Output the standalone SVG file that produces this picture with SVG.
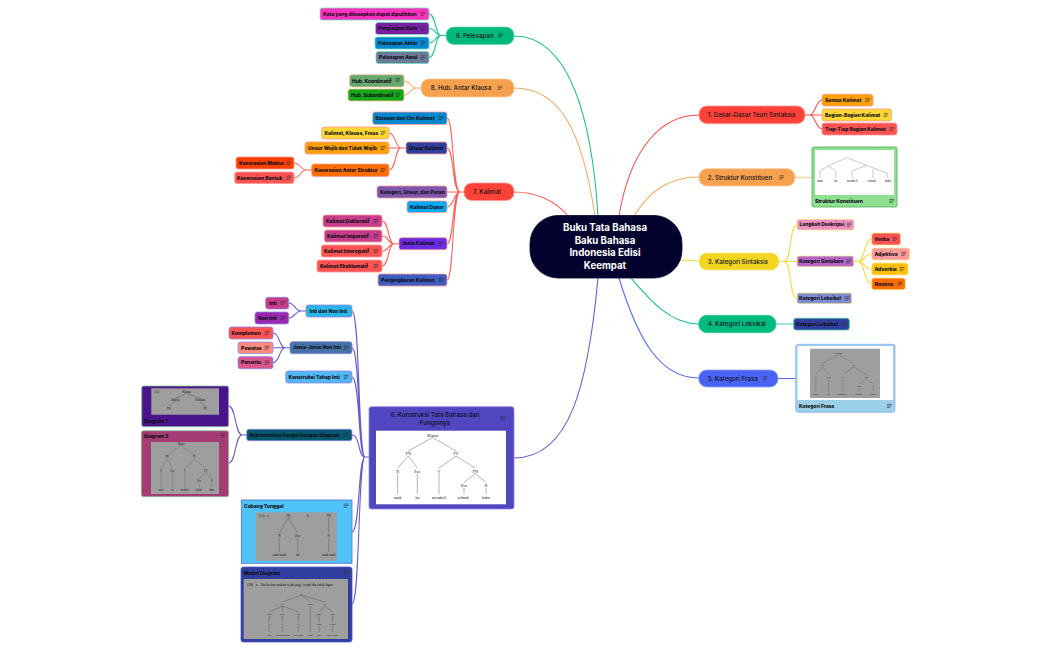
<svg xmlns="http://www.w3.org/2000/svg" width="1050" height="650" viewBox="0 0 1050 650">
<style>
text{font-family:"Inter","Liberation Sans",sans-serif;fill:#101018}
.t{font-size:4.9px;font-weight:800}
.m{font-size:6.2px;font-weight:500}
.r{font-size:9.7px;font-weight:700;fill:#fff;text-anchor:middle}
.s{font-family:"Liberation Serif",serif;font-size:4px;text-anchor:middle;fill:#111}
.c path{fill:none;stroke-width:1.05;stroke-linecap:round}
.tr line,.tr path{stroke:#555;stroke-width:.45;fill:none}
.n{stroke:#333;stroke-width:.6;fill:none}
.g{fill:#9e9e9e}
.c9{stroke:#1cc48c}.c8{stroke:#f8a95f}.c7{stroke:#ff5f56}.c6{stroke:#625ad2}.c1{stroke:#ff4a42}.c2{stroke:#f8a95f}.c3{stroke:#f5d93a}.c4{stroke:#0cc087}.c5{stroke:#5069f5}
.b9{stroke:#6fdcb8}.b8{stroke:#fbc795}.b7{stroke:#ff9a94}.b6{stroke:#8f88e2}.b1{stroke:#ff9a94}.b3{stroke:#fae98c}.b4{stroke:#35cf9c}.b5{stroke:#8aa8ff}
rect{stroke-width:.8}
</style>
<defs>
<g id="i"><path class="n" d="M-2.4-1.6H2.4M-2.4 0H2.4M-2.4 1.6H.8"/></g>
<g id="tree" class="tr">
<path d="M432.7 437.5L408.3 451M432.7 437.5L456 451M408.3 456L397.7 468M408.3 456L417.3 468M456 456L439 468M456 456L475.3 468M397.7 473.5V494M417.3 473.5V494M439 473.5V494M475.3 473.5L464 482.5M475.3 473.5L486 482.5M464 488V494M486 488V494"/>
<text class="s" x="432.7" y="436.5">Klausa</text><text class="s" x="408.3" y="455">FN</text><text class="s" x="456" y="455">FV</text><text class="s" x="397.7" y="472.5">N</text><text class="s" x="417.3" y="472.5">Pen</text><text class="s" x="439" y="472.5">V</text><text class="s" x="475.3" y="472.5">FN</text><text class="s" x="464" y="487">Pen</text><text class="s" x="486" y="487">N</text><text class="s" x="397.7" y="499">anak</text><text class="s" x="417.3" y="499">itu</text><text class="s" x="439" y="499">membeli</text><text class="s" x="463.3" y="499">sebuah</text><text class="s" x="486" y="499">buku</text>
</g>
</defs>
<rect width="1050" height="650" fill="#fff" stroke="none"/>
<g id="connectors" class="c">
<path class="c9" d="M598 216C592 120 570 36 514 36"/>
<path class="c8" d="M595 216C582 130 560 88 514 88"/>
<path class="c7" d="M568 216C555 200 535 192 514 192"/>
<path class="c6" d="M598 278C588 385 570 458 514 458"/>
<path class="c1" d="M619 216C630 150 660 115 699 115"/>
<path class="c2" d="M634 216C650 190 670 177 699 177"/>
<path class="c3" d="M680 260C688 260 692 261 699 261"/>
<path class="c4" d="M631 278C650 300 670 324 699 324"/>
<path class="c5" d="M619 278C638 340 660 378 699 378"/>
<path class="c9" d="M446 35.5H441C435 35.5 436 14 429 14M441 35.5C435 35.5 436 28.5 429 28.5M441 35.5C435 35.5 436 43 429 43M441 35.5C435 35.5 436 57.5 429 57.5"/>
<path class="c8" d="M421 88H416C411 88 410 81 404 81M416 88C411 88 410 95 404 95"/>
<path class="c7" d="M464 192H460C452 192 454 118 447 118M460 192C452 192 454 148 447 148M460 192H447M460 192C454 192 454 207 447 207M460 192C452 192 454 243.7 447 243.7M460 192C452 192 454 280 447 280"/>
<path class="c7" d="M406 148H401C395 148 396 133 389 133M401 148H389M401 148C395 148 396 170 389 170"/>
<path class="c7" d="M311.7 170H306C301 170 300 163 294 163M306 170C301 170 300 178 294 178"/>
<path class="c7" d="M399 243.7H394C388 243.7 389 221 382 221M394 243.7C388 243.7 389 236 382 236M394 243.7C388 243.7 389 251 382 251M394 243.7C388 243.7 389 266 382 266"/>
<path class="c6" d="M369 457H365C358 457 360 311 352 311M365 457C358 457 360 347.7 352 347.7M365 457C358 457 360 377 352 377M365 457C358 457 360 435 352 435M365 457C358 457 360 532 352 532M365 457C358 457 360 604 352 604"/>
<path class="c6" d="M306 311H301C295 311 295 303 288.7 303M301 311C295 311 295 318 288.7 318"/>
<path class="c6" d="M290 347.7H285C279 347.7 280 333 273 333M285 347.7H273M285 347.7C279 347.7 280 362.7 273 362.7"/>
<path class="c6" d="M246.7 435H242C235 435 236 406 228.7 406M242 435C235 435 236 463 228.7 463"/>
<path class="c1" d="M805 115H810C815 115 816 100 822 100M810 115H822M810 115C815 115 816 129 822 129"/>
<path class="c3" d="M779 261.5H784C792 261.5 789 224.7 797 224.7M784 261.5H797M784 261.5C792 261.5 789 298.5 797 298.5"/>
<path class="c3" d="M853.7 261.5H858C865 261.5 864 239 871.7 239M858 261.5C865 261.5 864 254 871.7 254M858 261.5C865 261.5 864 269 871.7 269M858 261.5C865 261.5 864 284 871.7 284"/>
<path class="c2" d="M795 177.5H812" style="stroke:#fbd0a6;stroke-width:1.6"/>
<path class="c4" d="M776 324H793.7" style="stroke:#7fe0bd;stroke-width:1.4"/>
<path class="c5" d="M778 378.5H795.7"/>
</g>
<g id="root"><rect x="530" y="215.5" width="152" height="62.5" rx="28" fill="#03022e" stroke="#03022e"/><text class="r"><tspan x="605" y="231">Buku Tata Bahasa</tspan><tspan x="605" y="243.5">Baku Bahasa</tspan><tspan x="605" y="256">Indonesia Edisi</tspan><tspan x="605" y="268.5">Keempat</tspan></text></g>

<g id="n9"><rect class="b9" x="446" y="27" width="68" height="17.5" rx="8" fill="#00b97a"/><text class="m" x="455.7" y="37.8">9. Pelesapan</text><use href="#i" x="500.7" y="35.3"/></g>
<g id="n9a"><rect class="b9" x="320" y="8" width="109" height="12" rx="2.5" fill="#ff2fc0"/><text class="t" x="323" y="15.7">Kata yang dilesapkan dapat dipulihkan</text><use href="#i" x="423" y="14"/></g>
<g id="n9b"><rect class="b9" x="375.5" y="22.5" width="53.5" height="12" rx="2.5" fill="#7b1fa2"/><text class="t" x="378" y="30.2">Penyisipan Kata</text><use href="#i" x="423" y="28.5"/></g>
<g id="n9c"><rect class="b9" x="375" y="37" width="54" height="12" rx="2.5" fill="#0288d1"/><text class="t" x="378" y="44.7">Pelesapan Akhir</text><use href="#i" x="423" y="43"/></g>
<g id="n9d"><rect class="b9" x="376" y="51.5" width="53" height="12" rx="2.5" fill="#6b7a99"/><text class="t" x="379" y="59.2">Pelesapan Awal</text><use href="#i" x="423" y="57.5"/></g>

<g id="n8"><rect class="b8" x="421" y="79" width="93" height="18" rx="8" fill="#f7a14e"/><text class="m" x="430.7" y="90">8. Hub. Antar Klausa</text><use href="#i" x="500" y="87.7"/></g>
<g id="n8a"><rect class="b8" x="349.5" y="74.7" width="54.5" height="12.3" rx="2.5" fill="#66a86e"/><text class="t" x="352" y="82.5">Hub. Koordinatif</text><use href="#i" x="398" y="80"/></g>
<g id="n8b"><rect class="b8" x="348" y="89" width="56" height="12" rx="2.5" fill="#17a81a"/><text class="t" x="351" y="96.7">Hub. Subordinatif</text><use href="#i" x="398" y="95"/></g>

<g id="n7"><rect class="b7" x="464" y="183" width="50" height="17.6" rx="8" fill="#ff4238"/><text class="m" x="473" y="194">7. Kalimat</text></g>
<g id="n7a"><rect class="b7" x="372.7" y="112" width="74.3" height="12.5" rx="2.5" fill="#0288d1"/><text class="t" x="375.5" y="119.9">Batasan dan Ciri Kalimat</text><use href="#i" x="441" y="118"/></g>
<g id="n7b"><rect class="b7" x="406" y="142" width="41" height="12" rx="2.5" fill="#303f9f"/><text class="t" x="409" y="149.7">Unsur Kalimat</text></g>
<g id="n7b1"><rect class="b7" x="321.7" y="127" width="67.3" height="12" rx="2.5" fill="#fdd835"/><text class="t" x="324.5" y="134.7">Kalimat, Klausa, Frasa</text><use href="#i" x="383" y="133"/></g>
<g id="n7b2"><rect class="b7" x="305" y="142" width="84" height="12" rx="2.5" fill="#ffa000"/><text class="t" x="308" y="149.7">Unsur Wajib dan Tidak Wajib</text><use href="#i" x="383" y="148"/></g>
<g id="n7b3"><rect class="b7" x="311.7" y="164" width="77.3" height="12.5" rx="2.5" fill="#ff6d00"/><text class="t" x="314.5" y="171.9">Keserasian Antar Struktur</text><use href="#i" x="383" y="170"/></g>
<g id="n7b3a"><rect class="b7" x="236" y="157" width="58" height="12" rx="2.5" fill="#ff3d00"/><text class="t" x="239" y="164.7">Keserasian Makna</text><use href="#i" x="288.7" y="163"/></g>
<g id="n7b3b"><rect class="b7" x="234.7" y="172" width="59.3" height="11.5" rx="2.5" fill="#ff5252"/><text class="t" x="237" y="179.5">Keserasian Bentuk</text><use href="#i" x="288.7" y="177.7"/></g>
<g id="n7c"><rect class="b7" x="377" y="186" width="70" height="12" rx="2.5" fill="#7e57ad"/><text class="t" x="380" y="193.7">Kategori, Unsur, dan Peran</text></g>
<g id="n7d"><rect class="b7" x="407" y="201" width="40" height="11.5" rx="2.5" fill="#03a9f4"/><text class="t" x="410" y="208.5">Kalimat Dasar</text></g>
<g id="n7e"><rect class="b7" x="399" y="237.7" width="48" height="12" rx="2.5" fill="#6a2be2"/><text class="t" x="401.7" y="245.4">Jenis Kalimat</text><use href="#i" x="441" y="243.7"/></g>
<g id="n7e1"><rect class="b7" x="323" y="215" width="59" height="12" rx="2.5" fill="#c83c8c"/><text class="t" x="326" y="222.7">Kalimat Deklaratif</text><use href="#i" x="376" y="221"/></g>
<g id="n7e2"><rect class="b7" x="324.3" y="230" width="57.7" height="12" rx="2.5" fill="#c83c8c"/><text class="t" x="327" y="237.7">Kalimat Imperatif</text><use href="#i" x="376" y="236"/></g>
<g id="n7e3"><rect class="b7" x="321.3" y="245" width="60.7" height="12" rx="2.5" fill="#ff5252"/><text class="t" x="324" y="252.7">Kalimat Interogatif</text><use href="#i" x="376" y="251"/></g>
<g id="n7e4"><rect class="b7" x="317" y="260" width="65" height="12" rx="2.5" fill="#ff5252"/><text class="t" x="320" y="267.7">Kalimat Eksklamatif</text><use href="#i" x="376" y="266"/></g>
<g id="n7f"><rect class="b7" x="378" y="274" width="69" height="12" rx="2.5" fill="#3f5cc0"/><text class="t" x="381" y="281.7">Pengingkaran Kalimat</text><use href="#i" x="441" y="280"/></g>

<g id="n6"><rect class="b6" x="369" y="406.7" width="145" height="102.3" rx="2.5" fill="#4f46c0"/><text class="m" text-anchor="middle"><tspan x="435" y="417">6. Konstruksi Tata Bahasa dan</tspan><tspan x="435" y="425">Fungsinya</tspan></text><use href="#i" x="502.7" y="418.5"/><rect x="376" y="430.7" width="130" height="73.6" fill="#fff" stroke="none"/><use href="#tree"/></g>
<g id="n6a"><rect class="b6" x="306" y="305" width="46" height="12" rx="2.5" fill="#29b6e6"/><text class="t" x="309.5" y="312.7">Inti dan Non Inti</text></g>
<g id="n6a1"><rect class="b6" x="265.7" y="297.3" width="23" height="11.7" rx="2.5" fill="#c83c8c"/><text class="t" x="269" y="304.9">Inti</text><use href="#i" x="283" y="303"/></g>
<g id="n6a2"><rect class="b6" x="255" y="312" width="33.7" height="12" rx="2.5" fill="#9c27b0"/><text class="t" x="258" y="319.7">Non Inti</text><use href="#i" x="283" y="318"/></g>
<g id="n6b"><rect class="b6" x="290" y="341.7" width="62" height="12" rx="2.5" fill="#4573a8"/><text class="t" x="293" y="349.4">Jenis-Jenis Non Inti</text><use href="#i" x="346" y="347.7"/></g>
<g id="n6b1"><rect class="b6" x="229" y="327" width="44" height="12" rx="2.5" fill="#ff5252"/><text class="t" x="231.5" y="334.7">Komplemen</text><use href="#i" x="267" y="333"/></g>
<g id="n6b2"><rect class="b6" x="238" y="342" width="35" height="11.6" rx="2.5" fill="#ff8a80"/><text class="t" x="241" y="349.6">Pewatas</text><use href="#i" x="267" y="347.7"/></g>
<g id="n6b3"><rect class="b6" x="238" y="356.7" width="35" height="12" rx="2.5" fill="#d9558f"/><text class="t" x="241" y="364.4">Penentu</text><use href="#i" x="267" y="362.7"/></g>
<g id="n6c"><rect class="b6" x="285.7" y="371" width="66.3" height="12" rx="2.5" fill="#4fb8f5"/><text class="t" x="288.5" y="378.7">Konstruksi Tahap Inti</text><use href="#i" x="346" y="377"/></g>
<g id="n6d"><rect class="b6" x="246.7" y="429.3" width="105.3" height="11.4" rx="2.5" fill="#00596e"/><text class="t" x="249.5" y="436.8">Representasi Fungsi Dengan Diagram</text><use href="#i" x="346" y="435"/></g>

<g id="n6d1"><rect x="141.7" y="386" width="87" height="40.7" rx="2" fill="#4a148c" stroke="#8fbf9f"/><rect class="g" x="151.3" y="388.3" width="67.7" height="26.4" stroke="none"/>
<g class="tr"><path d="M186.7 393L175.3 398.5M186.7 393L200 398.5M175.3 401L168.7 406.5M200 401L205.3 406.5"/></g>
<text class="s" style="font-size:3px" x="156.7" y="392.5">(15)</text><text class="s" style="font-size:3px" x="186.7" y="392.5">Klausa</text><text class="s" style="font-size:3px" x="175.3" y="400.5">Subjek</text><text class="s" style="font-size:3px" x="200" y="400.5">Predikat</text><text class="s" style="font-size:3px" x="168.7" y="409.5">FN</text><text class="s" style="font-size:3px" x="205.3" y="409.5">FV</text>
<text class="t" x="144" y="423">Diagram 1</text></g>

<g id="n6d2"><rect x="141.3" y="430.7" width="87.4" height="66" rx="2" fill="#a53d74" stroke="#8fbf9f"/><text class="t" x="144" y="438">Diagram 2</text><use href="#i" x="223" y="435.5"/><rect class="g" x="151" y="442" width="68" height="52" stroke="none"/><use href="#tree" transform="translate(-67.7 117.2) scale(.575 .75)"/></g>

<g id="n6e"><rect x="241.3" y="500" width="110.7" height="63.3" fill="#4fc3f7" stroke="#5b6cd0"/><text class="t" x="244" y="507.5">Cabang Tunggal</text><use href="#i" x="346" y="505.7"/><rect class="g" x="255.7" y="512.3" width="81.3" height="48.4" stroke="none"/>
<g class="tr"><path d="M288.3 517.5L279.3 533M288.3 517.5L297.7 533M328.7 517.5V533M279.3 537.5V552M297.7 537.5V552M328.7 537.5V552"/></g>
<text class="s" style="font-size:3.2px" x="261.7" y="517">(13)</text><text class="s" style="font-size:3.2px" x="268" y="517">a.</text><text class="s" style="font-size:3.2px" x="288.3" y="517">FN</text><text class="s" style="font-size:3.2px" x="308.3" y="517">b.</text><text class="s" style="font-size:3.2px" x="328.7" y="517">FN</text><text class="s" style="font-size:3.2px" x="279.3" y="536.5">N</text><text class="s" style="font-size:3.2px" x="297.7" y="536.5">Pen</text><text class="s" style="font-size:3.2px" x="328.7" y="536.5">N</text><text class="s" style="font-size:3.2px" x="279.3" y="556">anak-anak</text><text class="s" style="font-size:3.2px" x="297.7" y="556">itu</text><text class="s" style="font-size:3.2px" x="328.7" y="556">anak-anak</text></g>

<g id="n6f"><rect x="241" y="567" width="111" height="75" rx="2.5" fill="#303f9f" stroke="#4a55c8"/><text class="t" x="243.7" y="574.5">Model Diagram</text><use href="#i" x="346" y="572"/><rect class="g" x="243.7" y="579" width="104.3" height="60" stroke="none"/>
<text class="s" style="font-size:3.6px;text-anchor:start" x="247" y="586" xml:space="preserve">(30)   a.   Ibu belum makan sejak pagi, tetapi dia tidak lapar.</text>
<g class="tr"><path d="M301 595L282.3 602M301 595L310.3 602M301 595L325 602M282.3 606L269.3 612M282.3 606V612M282.3 606L298.3 612M325 606L319 612M325 606L332.3 612M269.3 615.5V622M282.3 615.5V622M298.3 615.5V622M319 615.5V622M332.3 615.5V622M269.3 626V632M282.3 626V632M298.3 626V632M319 626V632M332.3 626V632M310.3 606V632"/></g>
<g><text class="s" style="font-size:2.5px" x="301" y="594.5">S</text><text class="s" style="font-size:2.5px" x="282.3" y="604.7">K</text><text class="s" style="font-size:2.5px" x="310.3" y="604.7">Konj</text><text class="s" style="font-size:2.5px" x="325" y="604.7">KI</text><text class="s" style="font-size:2.5px" x="269.3" y="614.7">Subj</text><text class="s" style="font-size:2.5px" x="282.3" y="614.7">Pred</text><text class="s" style="font-size:2.5px" x="298.3" y="614.7">Ket</text><text class="s" style="font-size:2.5px" x="319" y="614.7">Subj</text><text class="s" style="font-size:2.5px" x="332.3" y="614.7">Pred</text><text class="s" style="font-size:2.5px" x="269.3" y="625">FN</text><text class="s" style="font-size:2.5px" x="282.3" y="625">FV</text><text class="s" style="font-size:2.5px" x="298.3" y="625">FN</text><text class="s" style="font-size:2.5px" x="319" y="625">Pron</text><text class="s" style="font-size:2.5px" x="332.3" y="625">Predg</text><text class="s" style="font-size:2.5px" x="269.3" y="636">Ibu</text><text class="s" style="font-size:2.5px" x="283" y="636">belum makan</text><text class="s" style="font-size:2.5px" x="298.3" y="636">sejak pagi</text><text class="s" style="font-size:2.5px" x="310.3" y="636">tetapi</text><text class="s" style="font-size:2.5px" x="319" y="636">dia</text><text class="s" style="font-size:2.5px" x="332.3" y="636">tidak lapar</text></g></g>

<g id="n1"><rect class="b1" x="699" y="106" width="106" height="17.7" rx="8" fill="#ff4238"/><text class="m" x="707.7" y="117">1. Dasar-Dasar Teori Sintaksis</text></g>
<g id="n1a"><rect class="b1" x="822" y="94.3" width="51" height="11.7" rx="2.5" fill="#ffa000"/><text class="t" x="825" y="101.9">Semua Kalimat</text><use href="#i" x="867.7" y="100"/></g>
<g id="n1b"><rect class="b1" x="822" y="109" width="69.7" height="12" rx="2.5" fill="#fdd835"/><text class="t" x="825" y="116.7">Bagian-Bagian Kalimat</text><use href="#i" x="886" y="115"/></g>
<g id="n1c"><rect class="b1" x="822" y="123" width="75" height="12" rx="2.5" fill="#ff5252"/><text class="t" x="825" y="130.7">Tiap-Tiap Bagian Kalimat</text><use href="#i" x="891.7" y="129"/></g>

<g id="n2"><rect class="b8" x="699" y="168.7" width="96" height="17.3" rx="8" fill="#f7a14e"/><text class="m" x="707.7" y="179.6">2. Struktur Konstituen</text><use href="#i" x="781.7" y="177.3"/></g>
<g id="n2a"><rect x="812" y="147" width="85" height="60" rx="1.5" fill="#8fdf92" stroke="#4cb050"/><rect x="815" y="150" width="79" height="45" fill="#fff" stroke="none"/>
<g class="tr"><path style="stroke:#888" d="M846.7 157.7L828 166M846.7 157.7L886.7 173M828 166L820 171V178M828 166L835.7 171V178M866.7 165.3L852 171V178M873 169V178M886.7 173L888 178"/></g>
<text class="s" style="font-size:3px" x="820" y="181.5">anak</text><text class="s" style="font-size:3px" x="835.7" y="181.5">itu</text><text class="s" style="font-size:3px" x="852.3" y="181.5">membeli</text><text class="s" style="font-size:3px" x="871.7" y="181.5">sebuah</text><text class="s" style="font-size:3px" x="888" y="181.5">buku</text>
<text class="t" x="815" y="202.8">Struktur Konstituen</text><use href="#i" x="891.7" y="201"/></g>

<g id="n3"><rect class="b3" x="699" y="253" width="80" height="17" rx="8" fill="#f2d51f"/><text class="m" x="707.7" y="263.7">3. Kategori Sintaksis</text></g>
<g id="n3a"><rect class="b3" x="797" y="219.3" width="57" height="10.7" rx="2" fill="#ef8fc0"/><text class="t" x="799.5" y="226.4">Langkah Deskripsi</text><use href="#i" x="849.3" y="224.7"/></g>
<g id="n3b"><rect class="b3" x="797" y="256" width="56.7" height="10.7" rx="2" fill="#b565c8"/><text class="t" x="799" y="263.1">Kategori Sintaksis</text><use href="#i" x="848.7" y="261.3"/></g>
<g id="n3c"><rect class="b3" x="797" y="293" width="54.7" height="10.7" rx="2" fill="#7e8bd0"/><text class="t" x="799" y="300.1">Kategori Leksikal</text><use href="#i" x="847" y="298.3"/></g>
<g id="n3b1"><rect class="b3" x="871.7" y="233" width="29" height="12" rx="2.5" fill="#ff5252"/><text class="t" x="874.5" y="240.7">Verba</text><use href="#i" x="895" y="239"/></g>
<g id="n3b2"><rect class="b3" x="871.7" y="248" width="38" height="12" rx="2.5" fill="#ff9a9a"/><text class="t" x="874.5" y="255.7">Adjektiva</text><use href="#i" x="903.7" y="254"/></g>
<g id="n3b3"><rect class="b3" x="871.7" y="263" width="36.3" height="12" rx="2.5" fill="#ffc107"/><text class="t" x="874.5" y="270.7">Adverbia</text><use href="#i" x="902" y="269"/></g>
<g id="n3b4"><rect class="b3" x="871.7" y="278" width="33.6" height="11.7" rx="2.5" fill="#ff6d00"/><text class="t" x="874.5" y="285.6">Nomina</text><use href="#i" x="900" y="283.7"/></g>

<g id="n4"><rect class="b4" x="698.7" y="315.3" width="77.3" height="17.4" rx="8" fill="#00bb80"/><text class="m" x="707.7" y="326.2">4. Kategori Leksikal</text></g>
<g id="n4a"><rect class="b4" x="793.7" y="318.3" width="55.6" height="11.7" rx="2.5" fill="#303f9f"/><text class="t" x="796" y="325.9">Kategori Leksikal</text><use href="#i" x="844" y="324"/></g>

<g id="n5"><rect class="b5" x="698.7" y="370" width="79.3" height="17" rx="8" fill="#4a63f5"/><text class="m" x="707.7" y="380.7">5. Kategori Frasa</text><use href="#i" x="765" y="378.3"/></g>
<g id="n5a"><rect x="795.7" y="344.3" width="99.3" height="68" rx="2.5" fill="#9ccfe8" stroke="#8ab0ff"/><rect x="797.5" y="346" width="95.5" height="54" fill="#fff" stroke="none"/><rect class="g" x="810" y="348.7" width="70" height="49.3" stroke="none"/><use href="#tree" transform="translate(556 71.8) scale(.653 .647)"/><text class="t" x="799" y="408">Kategori Frasa</text><use href="#i" x="889.3" y="406"/></g>
</svg>
